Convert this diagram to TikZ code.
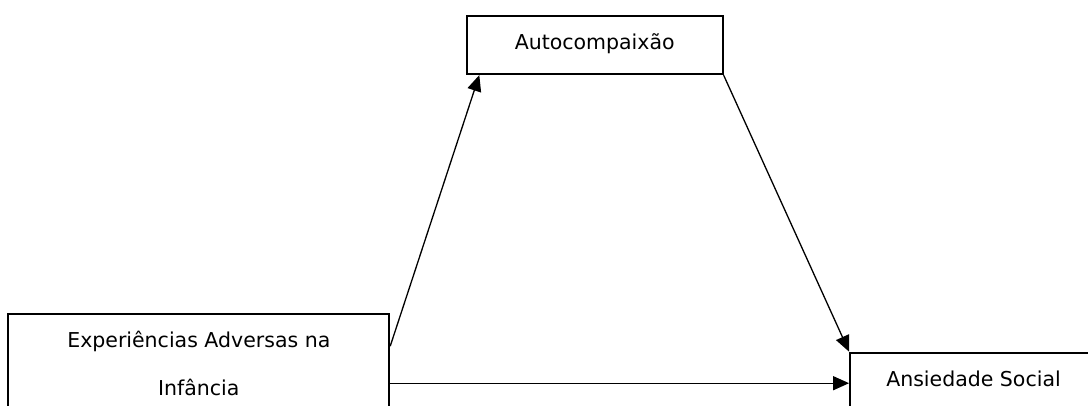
\documentclass[tikz,border=0pt]{standalone}
\usepackage{fontspec}
\setmainfont{DejaVu Sans}
\usetikzlibrary{arrows.meta,calc}
\begin{document}
\begin{tikzpicture}[x=1pt,y=-1pt,
  box/.style={draw, line width=1.8pt, rectangle, inner sep=0pt,
    font=\fontsize{20.5}{48}\selectfont},
  link/.style={line width=1.3pt, -{Triangle[length=16pt,width=14pt]}}]
\path[use as bounding box, clip] (0,0) rectangle (1088,405);
% boxes
\node[box, anchor=north, minimum width=256pt, text height=33.6pt, text depth=25pt]
  (auto) at (594.7,14.7) {Autocompaixão};
\node[box, anchor=north, minimum width=381pt, align=center, text height=82.3pt, text depth=30pt]
  (exp) at (198.8,312.7) {Experiências Adversas na\\Infância};
\node[box, anchor=north, minimum width=247pt, text height=34pt, text depth=35pt]
  (anx) at (973.5,351.7) {Ansiedade Social};
% connector end points on the box borders
\coordinate (e1) at ($(exp.north east)+(0,33.5)$);
\coordinate (a1) at ($(auto.south west)+(13.5,0)$);
\coordinate (e2) at ($(exp.north east)+(0,70.5)$);
\coordinate (x2) at (anx.west |- e2);
% connectors
\draw[link] (e1) -- (a1);
\draw[link] (auto.south east) -- (anx.north west);
\draw[link] (e2) -- (x2);
\end{tikzpicture}
\end{document}
